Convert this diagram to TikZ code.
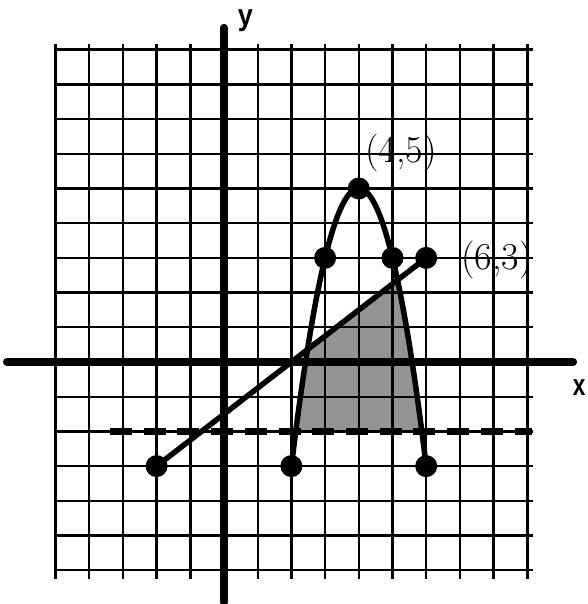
\documentclass[tikz,border=0pt]{standalone}
\usepackage{fontspec}
\usepackage{graphicx}
\newfontfamily\axfont{Liberation Sans}
\begin{document}
\begin{tikzpicture}[x=33.7pt,y=34.7pt,
  gridline/.style={line width=2.4pt},
  axisline/.style={line width=8pt, line cap=round},
  curve/.style={line width=5.5pt, line join=round},
  dot/.style={circle, fill=black, inner sep=0pt, minimum size=22pt},
  dashline/.style={line width=6.5pt, dash pattern=on 22pt off 11.7pt},
  shadearea/.style={fill=black!42},
  hand/.style={font=\fontsize{38}{40}\selectfont, inner sep=0pt},
  axlabel/.style={font=\axfont\bfseries\fontsize{30}{32}\selectfont, inner sep=0pt, anchor=base}
]
\useasboundingbox (-224pt,-242pt) rectangle (363pt,362pt);
% shaded region
\fill[shadearea] plot[domain=2.1292:2.477, samples=20] (\x,{5-2*(\x-4)^2})
  -- (5.148,2.361)
  -- plot[domain=5.148:5.8708, samples=20] (\x,{5-2*(\x-4)^2}) -- cycle;
% grid
\foreach \i in {-5,...,9} \draw[gridline] (\i,-6.25) -- (\i,9.15);
\foreach \j in {-6,...,9} \draw[gridline] (-5.05,\j) -- (9.18,\j);
% axes
\coordinate (xl) at (-6.44,0);
\coordinate (xr) at (10.36,0);
\coordinate (yb) at (0,-6.92);
\coordinate (yt) at (0,9.63);
\draw[axisline] (xl) -- (xr);
\draw[axisline] (yb) -- (yt);
% dashed line y=-2
\coordinate (dl) at (-3.38,-2);
\coordinate (dr) at (9.14,-2);
\draw[dashline] (dl) -- (dr);
% points
\coordinate (A) at (-2,-3);
\coordinate (B) at (2,-3);
\coordinate (C) at (3,3);
\coordinate (D) at (4,5);
\coordinate (E) at (5,3);
\coordinate (F) at (6,3);
\coordinate (G) at (6,-3);
\draw[curve] (A) -- (F);
\draw[curve] plot[domain=2:6, samples=80, smooth] (\x,{5-2*(\x-4)^2});
\foreach \p in {A,B,C,D,E,F,G} \node[dot] (dot\p) at (\p) {};
% labels
\node[hand] (lab45) at (177pt,209pt) {(4,5)};
\node[hand] (lab63) at (273pt,102pt) {(6,3)};
\node[axlabel] (ylab) at (21.5pt,336.4pt) {\scalebox{0.9}[1]{y}};
\node[axlabel] (xlab) at (355pt,-34pt) {\scalebox{0.75}[1]{x}};
\end{tikzpicture}
\end{document}
